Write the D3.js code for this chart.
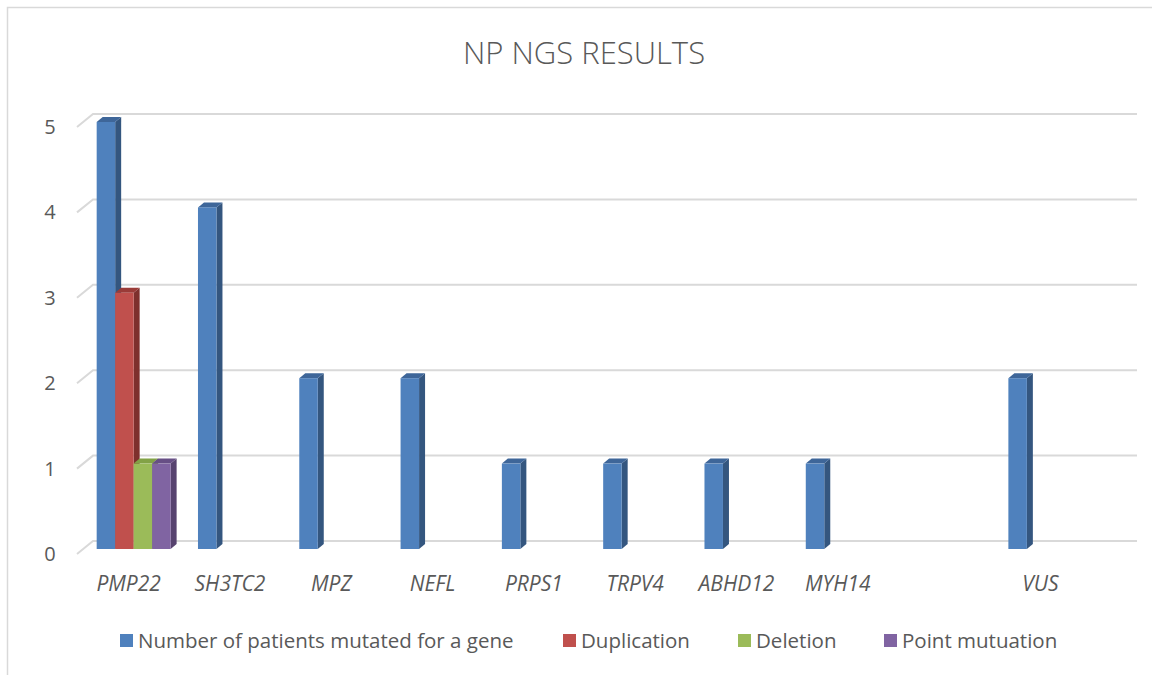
<!DOCTYPE html>
<html>
<head>
<meta charset="utf-8">
<script src="https://cdn.jsdelivr.net/npm/d3@7"></script>
<style>
  body { margin: 0; background: #fff; }
  svg { font-family: "Open Sans", sans-serif; }
</style>
</head>
<body>
<div id="svgArea"></div>
<script>
// 데이터
const categories = ["PMP22", "SH3TC2", "MPZ", "NEFL", "PRPS1", "TRPV4", "ABHD12", "MYH14", "", "VUS"];
const seriesNames = ["Number of patients mutated for a gene", "Duplication", "Deletion", "Point mutuation"];
const patients    = [5, 4, 2, 2, 1, 1, 1, 1, null, 2];
const duplication = [3, null, null, null, null, null, null, null, null, null];
const deletion    = [1, null, null, null, null, null, null, null, null, null];
const pointMut    = [1, null, null, null, null, null, null, null, null, null];
const yTicks = [0, 1, 2, 3, 4, 5];

const allSeries = [patients, duplication, deletion, pointMut];
const frontColors = ["#4F81BD", "#C0504D", "#9BBB59", "#8064A2"];
const sideColors  = ["#34567F", "#7E302D", "#6E8A3A", "#57436F"];
const topColors   = ["#3E6699", "#9A3B38", "#82A246", "#674F85"];

const W = 1152, H = 675;
const svg = d3.select("#svgArea").append("svg").attr("width", W).attr("height", H);

// 바깥 테두리
svg.append("rect").attr("x", 7.5).attr("y", 7.5).attr("width", 1170).attr("height", 700)
  .attr("fill", "#fff").attr("stroke", "#D9D9D9").attr("stroke-width", 1.5);

// 제목
svg.append("text").attr("x", 584).attr("y", 64).attr("text-anchor", "middle")
  .attr("font-size", 31).attr("fill", "#595959").attr("font-weight", 300)
  .text("NP NGS RESULTS");

// 3D 깊이 오프셋
const wallDx = 16, wallDy = -13;   // 바닥 앞쪽 -> 뒷벽
const barDx = 6, barDy = -5;       // 막대 두께
const barShift = 8;                // 막대 앞면이 뒷벽보다 아래로 내려온 정도

const xScale = d3.scaleBand().domain(categories).range([83, 1096]).paddingInner(0.27).paddingOuter(0.135);
const xSub = d3.scaleBand().domain(d3.range(seriesNames.length)).range([0, xScale.bandwidth()]);
const yScale = d3.scaleLinear().domain([0, 5]).range([541, 114]);

// 뒷벽 격자선 + 옆쪽 사선
const wallLeft = 93, wallRight = 1137;
const grid = svg.append("g");
yTicks.forEach(t => {
  const y = yScale(t);
  grid.append("path")
    .attr("d", `M${wallLeft - wallDx},${y - wallDy} L${wallLeft},${y} L${wallRight},${y}`)
    .attr("fill", "none").attr("stroke", "#D9D9D9").attr("stroke-width", 2);
  grid.append("text").attr("x", 50).attr("y", y - wallDy + 7).attr("text-anchor", "middle")
    .attr("font-size", 20).attr("fill", "#595959").text(t);
});

// 막대 (앞면, 옆면, 윗면)
const bars = svg.append("g");
allSeries.forEach((vals, si) => {
  vals.forEach((v, ci) => {
    if (v == null) return;
    const x = xScale(categories[ci]) + xSub(si);
    const w = xSub.bandwidth();
    const top = yScale(v) + barShift;
    const bot = yScale(0) + barShift;
    bars.append("path")
      .attr("d", `M${x + w},${top} L${x + w + barDx},${top + barDy} L${x + w + barDx},${bot + barDy} L${x + w},${bot} Z`)
      .attr("fill", sideColors[si]);
    bars.append("path")
      .attr("d", `M${x},${top} L${x + barDx},${top + barDy} L${x + w + barDx},${top + barDy} L${x + w},${top} Z`)
      .attr("fill", topColors[si]);
    bars.append("rect").attr("x", x).attr("y", top).attr("width", w).attr("height", bot - top)
      .attr("fill", frontColors[si]);
  });
});

// x축 라벨 (이탤릭)
svg.append("g").selectAll("text").data(categories).enter().append("text")
  .attr("x", d => xScale(d) + xScale.bandwidth() / 2 - 5)
  .attr("y", 591).attr("text-anchor", "middle")
  .attr("font-size", 21).attr("font-style", "italic").attr("fill", "#595959")
  .text(d => d);

// 범례
const legendX = [120, 563, 738, 884];
const legend = svg.append("g");
seriesNames.forEach((name, i) => {
  legend.append("rect").attr("x", legendX[i]).attr("y", 634).attr("width", 13).attr("height", 13)
    .attr("fill", frontColors[i]);
  legend.append("text").attr("x", legendX[i] + 18).attr("y", 648)
    .attr("font-size", 20.5).attr("fill", "#595959").text(name);
});
</script>
</body>
</html>
